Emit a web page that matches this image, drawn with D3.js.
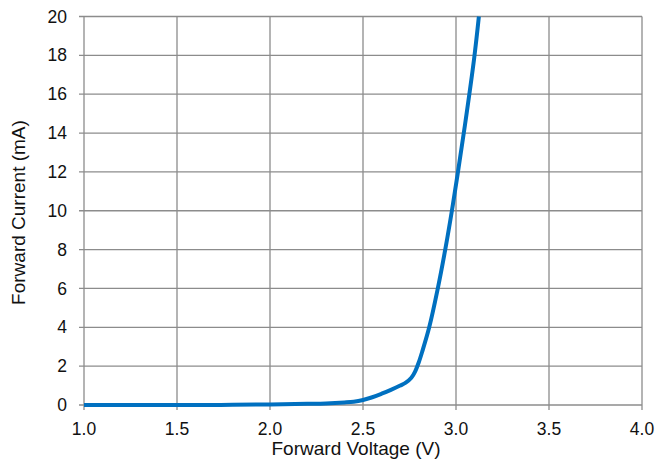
<!DOCTYPE html>
<html><head><meta charset="utf-8">
<script src="https://cdn.jsdelivr.net/npm/d3@7"></script>
<style>body{margin:0;background:#fff}svg{display:block}</style>
</head><body>
<svg id="c" width="658" height="461"></svg>
<script>
const voltage = [1.0,1.3,1.6,1.8,2.0,2.2,2.3,2.4,2.45,2.5,2.55,2.6,2.65,2.7,2.73,2.76,2.78,2.8,2.82,2.856,2.9,2.945,2.977,3.009,3.048,3.097,3.123];
const current = [0,0,0,0.01,0.03,0.06,0.08,0.13,0.17,0.26,0.4,0.58,0.78,1.0,1.15,1.4,1.72,2.2,2.8,4.0,5.9,8.15,9.95,11.9,14.4,17.8,20.0];
const xTicks = [1.0,1.5,2.0,2.5,3.0,3.5,4.0];
const yTicks = [0,2,4,6,8,10,12,14,16,18,20];

const svg = d3.select('#c');
const m = {l:84, r:642, t:16.5, b:405};
const x = d3.scaleLinear().domain([1,4]).range([m.l,m.r]);
const y = d3.scaleLinear().domain([0,20]).range([m.b,m.t]);
const font = "'Liberation Sans', Arial, sans-serif";
const grid = '#8c8c8c';

// grid
svg.append('g').selectAll('line').data(yTicks).join('line')
  .attr('x1',m.l-5).attr('x2',m.r).attr('y1',d=>y(d)).attr('y2',d=>y(d))
  .attr('stroke',grid).attr('stroke-width',1.3);
svg.append('g').selectAll('line').data(xTicks).join('line')
  .attr('y1',m.t).attr('y2',m.b+5).attr('x1',d=>x(d)).attr('x2',d=>x(d))
  .attr('stroke',grid).attr('stroke-width',1.3);

// tick labels
svg.append('g').selectAll('text').data(yTicks).join('text')
  .attr('x',67).attr('y',d=>y(d)).attr('dy','0.35em').attr('text-anchor','end')
  .attr('font-family',font).attr('font-size',17.5).attr('fill','#111')
  .text(d=>d);
svg.append('g').selectAll('text').data(xTicks).join('text')
  .attr('x',d=>x(d)).attr('y',435).attr('text-anchor','middle')
  .attr('font-family',font).attr('font-size',17.5).attr('fill','#111')
  .text(d=>d.toFixed(1));

// titles
svg.append('text').attr('x',356).attr('y',455).attr('text-anchor','middle')
  .attr('font-family',font).attr('font-size',19).attr('fill','#111').text('Forward Voltage (V)');
svg.append('text').attr('transform','translate(25,212.5) rotate(-90)')
  .attr('text-anchor','middle')
  .attr('font-family',font).attr('font-size',19).attr('fill','#111').text('Forward Current (mA)');

// curve
const pts = voltage.map((v,i)=>[v,current[i]]);
svg.append('path').datum(pts)
  .attr('d', d3.line().x(d=>x(d[0])).y(d=>y(d[1])).curve(d3.curveCatmullRom.alpha(0.5)))
  .attr('fill','none').attr('stroke','#0070c0').attr('stroke-width',4).attr('stroke-linejoin','round');
</script>
</body></html>
